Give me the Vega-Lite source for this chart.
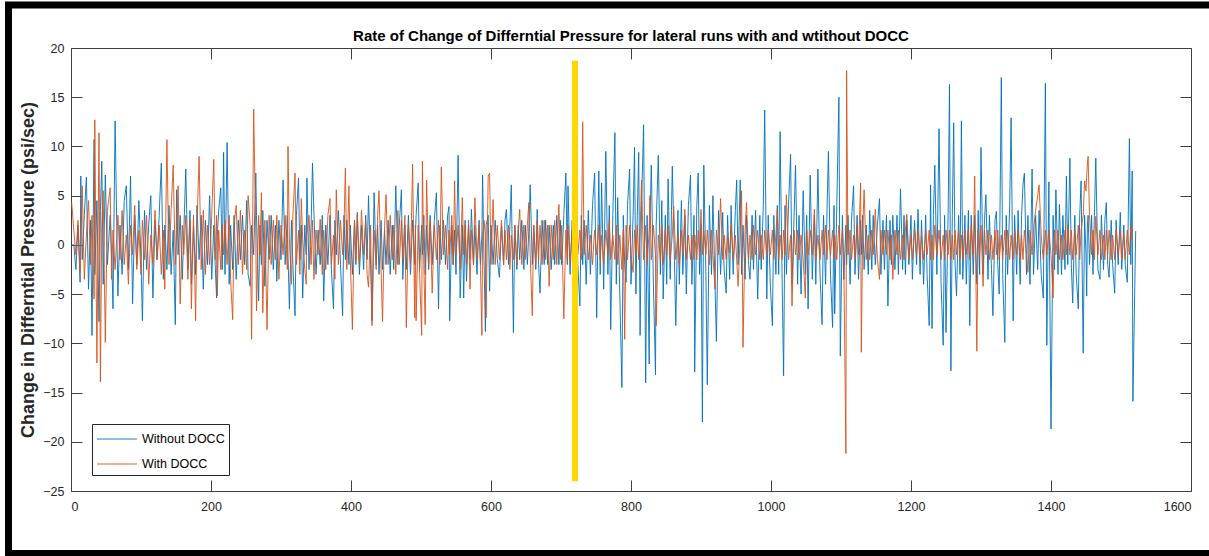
{
"$schema":"https://vega.github.io/schema/vega-lite/v6.json",
"autosize":{"type":"none"},
"width":1120,"height":443,
"padding":{"left":71,"top":48,"right":18,"bottom":65},
"background":"white",
"config":{"font":"Liberation Sans","view":{"stroke":"#404040","strokeWidth":1}},
"title":{"text":"Rate of Change of Differntial Pressure for lateral runs with and wtithout DOCC","fontSize":15,"font":"Liberation Sans","fontWeight":"bold","color":"black","offset":-43,"anchor":"middle","frame":"group"},
"data":{"values":[
{"x":1,"b":0,"o":4.3},{"x":4,"b":0,"o":1.5},{"x":7,"b":-2.5,"o":-1.0},{"x":10,"b":2.0,"o":2.5},{"x":13,"b":-3.8,"o":-2.8},{"x":14,"b":7.0,"o":0.5},{"x":16,"b":-1.5,"o":6.0},{"x":19,"b":3.0,"o":-3.5},{"x":22,"b":6.9,"o":1.0},{"x":25,"b":-4.5,"o":4.5},{"x":28,"b":2.5,"o":-2.0},{"x":30,"b":-9.2,"o":3.0},{"x":33,"b":10.7,"o":-5.5},{"x":34,"b":-3.0,"o":12.7},{"x":37,"b":4.5,"o":-12.0},{"x":40,"b":-7.8,"o":11.4},{"x":42,"b":3.5,"o":-13.9},{"x":44,"b":8.5,"o":2.0},{"x":46,"b":-4.0,"o":5.5},{"x":49,"b":7.1,"o":-9.9},{"x":52,"b":-2.0,"o":3.5},{"x":56,"b":3.0,"o":5.8},{"x":58,"b":-1.0,"o":-3.5},{"x":60,"b":-6.5,"o":1.5},{"x":63,"b":12.6,"o":-2.5},{"x":67,"b":-5.2,"o":3.0},{"x":70,"b":2.0,"o":-1.5},{"x":73,"b":-3.0,"o":3.5},{"x":76,"b":4.5,"o":-2.0},{"x":79,"b":6.0,"o":1.0},{"x":82,"b":-2.5,"o":-4.0},{"x":85,"b":7.0,"o":2.0},{"x":88,"b":-6.0,"o":-1.0},{"x":91,"b":3.0,"o":4.0},{"x":94,"b":-2.0,"o":-2.5},{"x":97,"b":4.5,"o":1.5},{"x":100,"b":-1.5,"o":-3.0},{"x":102,"b":-7.7,"o":2.5},{"x":105,"b":3.5,"o":-1.5},{"x":108,"b":-2.5,"o":3.0},{"x":111,"b":2.0,"o":-4.0},{"x":114,"b":5.0,"o":1.0},{"x":117,"b":-5.4,"o":-2.0},{"x":120,"b":2.5,"o":3.5},{"x":123,"b":-1.5,"o":-1.5},{"x":126,"b":3.0,"o":2.0},{"x":129,"b":8.3,"o":-3.0},{"x":132,"b":-3.5,"o":1.5},{"x":134,"b":2.0,"o":-4.5},{"x":137,"b":-2.5,"o":10.7},{"x":140,"b":4.0,"o":-2.0},{"x":143,"b":-3.0,"o":3.5},{"x":146,"b":1.5,"o":8.1},{"x":149,"b":-8.1,"o":-2.0},{"x":151,"b":5.6,"o":1.5},{"x":153,"b":-1.0,"o":6.0},{"x":156,"b":3.0,"o":-6.0},{"x":159,"b":-3.5,"o":2.0},{"x":161,"b":1.0,"o":-1.0},{"x":164,"b":7.7,"o":3.0},{"x":167,"b":-2.5,"o":-3.5},{"x":170,"b":3.5,"o":2.5},{"x":172,"b":-4.0,"o":-6.5},{"x":175,"b":2.0,"o":3.0},{"x":178,"b":-3.0,"o":-7.7},{"x":180,"b":4.0,"o":2.0},{"x":183,"b":-1.5,"o":9.0},{"x":186,"b":3.0,"o":-2.5},{"x":189,"b":-4.5,"o":3.5},{"x":192,"b":2.5,"o":-3.0},{"x":195,"b":-2.0,"o":2.0},{"x":198,"b":5.0,"o":-2.0},{"x":201,"b":-3.5,"o":3.0},{"x":204,"b":2.0,"o":8.7},{"x":206,"b":-2.0,"o":-1.5},{"x":208,"b":-5.4,"o":3.0},{"x":209,"b":1.0,"o":-5.2},{"x":211,"b":3.5,"o":1.5},{"x":214,"b":5.8,"o":-2.5},{"x":216,"b":-2.5,"o":2.0},{"x":218,"b":9.4,"o":-1.0},{"x":220,"b":-3.0,"o":2.5},{"x":223,"b":10.4,"o":-2.0},{"x":226,"b":-4.0,"o":3.0},{"x":228,"b":2.0,"o":-3.5},{"x":231,"b":-2.5,"o":-7.6},{"x":233,"b":3.0,"o":2.0},{"x":236,"b":-3.5,"o":4.0},{"x":239,"b":2.5,"o":-2.0},{"x":242,"b":-1.5,"o":3.5},{"x":245,"b":3.0,"o":-3.0},{"x":248,"b":-2.0,"o":1.5},{"x":251,"b":4.5,"o":-2.5},{"x":253,"b":-3.0,"o":5.0},{"x":256,"b":-4.2,"o":2.0},{"x":258,"b":2.0,"o":-9.6},{"x":261,"b":-1.0,"o":13.8},{"x":264,"b":7.3,"o":1.0},{"x":265,"b":3.0,"o":-6.7},{"x":268,"b":-5.7,"o":3.0},{"x":270,"b":2.0,"o":-1.0},{"x":272,"b":-2.0,"o":5.3},{"x":274,"b":3.5,"o":-6.9},{"x":277,"b":-4.2,"o":2.5},{"x":280,"b":2.5,"o":-8.6},{"x":283,"b":-1.5,"o":3.0},{"x":286,"b":3.0,"o":-2.0},{"x":289,"b":-2.5,"o":2.5},{"x":292,"b":2.0,"o":-1.5},{"x":294,"b":-3.7,"o":3.0},{"x":297,"b":2.5,"o":-3.5},{"x":300,"b":-1.5,"o":2.0},{"x":303,"b":6.6,"o":-1.0},{"x":306,"b":-2.0,"o":3.0},{"x":309,"b":3.0,"o":-2.5},{"x":310,"b":-1.0,"o":10.0},{"x":312,"b":-6.5,"o":0.5},{"x":315,"b":2.5,"o":-4.0},{"x":317,"b":-2.0,"o":3.0},{"x":320,"b":-7.2,"o":7.3},{"x":322,"b":3.0,"o":-2.0},{"x":325,"b":6.8,"o":1.5},{"x":327,"b":-1.5,"o":-3.0},{"x":329,"b":2.0,"o":4.7},{"x":331,"b":-5.4,"o":0.5},{"x":334,"b":2.0,"o":-2.5},{"x":336,"b":-1.0,"o":-4.0},{"x":337,"b":6.8,"o":1.0},{"x":340,"b":-2.5,"o":3.0},{"x":343,"b":2.0,"o":-2.0},{"x":345,"b":8.3,"o":2.5},{"x":347,"b":3.3,"o":-3.5},{"x":350,"b":-3.0,"o":1.5},{"x":353,"b":1.5,"o":-1.0},{"x":356,"b":-2.0,"o":2.6},{"x":359,"b":3.0,"o":-3.0},{"x":361,"b":-5.7,"o":1.5},{"x":364,"b":2.0,"o":-2.5},{"x":367,"b":-2.0,"o":3.0},{"x":370,"b":3.0,"o":4.7},{"x":372,"b":-2.5,"o":-2.0},{"x":375,"b":-6.5,"o":1.0},{"x":377,"b":2.5,"o":-3.5},{"x":379,"b":-1.0,"o":5.6},{"x":382,"b":3.5,"o":-2.0},{"x":385,"b":-2.0,"o":2.5},{"x":388,"b":-7.2,"o":-1.0},{"x":390,"b":3.0,"o":2.0},{"x":392,"b":-1.5,"o":7.8},{"x":394,"b":2.5,"o":-2.5},{"x":397,"b":-2.0,"o":6.0},{"x":399,"b":2.0,"o":-1.5},{"x":402,"b":-3.0,"o":-8.6},{"x":405,"b":2.5,"o":2.5},{"x":407,"b":-2.0,"o":-1.5},{"x":409,"b":3.3,"o":3.0},{"x":412,"b":-3.0,"o":-2.0},{"x":415,"b":2.0,"o":3.5},{"x":418,"b":-2.5,"o":-1.0},{"x":421,"b":3.0,"o":2.5},{"x":423,"b":-1.5,"o":-3.0},{"x":425,"b":5.0,"o":-4.3},{"x":428,"b":-2.0,"o":2.0},{"x":430,"b":-7.7,"o":-8.2},{"x":433,"b":5.3,"o":1.5},{"x":436,"b":-2.0,"o":-2.5},{"x":438,"b":2.0,"o":3.0},{"x":440,"b":-3.0,"o":5.5},{"x":443,"b":2.5,"o":-2.5},{"x":445,"b":-2.5,"o":-7.8},{"x":448,"b":1.5,"o":2.0},{"x":450,"b":-2.0,"o":5.1},{"x":453,"b":2.5,"o":-2.0},{"x":456,"b":-3.0,"o":3.0},{"x":459,"b":2.0,"o":-1.5},{"x":461,"b":-2.5,"o":2.0},{"x":464,"b":6.0,"o":-3.0},{"x":467,"b":-2.0,"o":3.5},{"x":469,"b":2.0,"o":-2.0},{"x":472,"b":5.6,"o":2.5},{"x":474,"b":-3.5,"o":-1.5},{"x":477,"b":2.0,"o":3.0},{"x":479,"b":-2.5,"o":-8.4},{"x":482,"b":3.0,"o":2.0},{"x":485,"b":-3.0,"o":-2.0},{"x":488,"b":2.5,"o":8.2},{"x":491,"b":-2.0,"o":-7.4},{"x":492,"b":1.0,"o":2.0},{"x":493,"b":3.0,"o":-7.7},{"x":496,"b":6.3,"o":2.0},{"x":498,"b":-2.5,"o":-3.0},{"x":501,"b":2.0,"o":-9.2},{"x":502,"b":-1.0,"o":8.5},{"x":504,"b":3.0,"o":-2.0},{"x":506,"b":-3.0,"o":-8.1},{"x":508,"b":2.0,"o":6.6},{"x":511,"b":-2.5,"o":-2.0},{"x":513,"b":3.0,"o":2.5},{"x":516,"b":-2.0,"o":-4.9},{"x":519,"b":2.5,"o":2.0},{"x":522,"b":5.3,"o":-1.5},{"x":525,"b":-6.5,"o":2.5},{"x":527,"b":2.0,"o":-2.0},{"x":529,"b":-1.5,"o":7.9},{"x":532,"b":2.5,"o":-1.0},{"x":535,"b":-2.0,"o":2.0},{"x":538,"b":3.0,"o":-2.5},{"x":540,"b":3.9,"o":1.5},{"x":541,"b":-7.7,"o":-1.0},{"x":544,"b":2.0,"o":3.0},{"x":546,"b":-2.0,"o":-2.0},{"x":548,"b":1.5,"o":6.5},{"x":550,"b":-3.0,"o":-1.0},{"x":553,"b":9.1,"o":2.0},{"x":556,"b":-5.4,"o":-2.5},{"x":559,"b":2.0,"o":4.8},{"x":561,"b":-5.4,"o":-1.0},{"x":563,"b":2.5,"o":2.0},{"x":565,"b":-3.7,"o":-2.0},{"x":568,"b":2.0,"o":2.5},{"x":570,"b":-1.5,"o":-4.5},{"x":572,"b":3.6,"o":1.5},{"x":575,"b":-2.0,"o":-2.0},{"x":577,"b":2.0,"o":4.8},{"x":580,"b":-3.0,"o":-1.5},{"x":583,"b":2.5,"o":2.0},{"x":585,"b":-2.0,"o":-2.5},{"x":587,"b":1.0,"o":-9.2},{"x":588,"b":7.1,"o":1.0},{"x":590,"b":-1.5,"o":2.5},{"x":592,"b":-8.8,"o":1.0},{"x":593,"b":2.0,"o":-7.4},{"x":596,"b":3.0,"o":7.0},{"x":598,"b":-4.7,"o":7.3},{"x":600,"b":2.0,"o":-2.0},{"x":603,"b":-2.0,"o":4.6},{"x":606,"b":2.5,"o":-2.0},{"x":609,"b":-1.5,"o":2.0},{"x":612,"b":-3.3,"o":-1.5},{"x":615,"b":2.0,"o":2.5},{"x":618,"b":-2.0,"o":-2.0},{"x":620,"b":2.5,"o":1.5},{"x":622,"b":3.6,"o":-1.5},{"x":625,"b":-2.0,"o":2.0},{"x":627,"b":2.0,"o":-2.5},{"x":629,"b":6.1,"o":1.0},{"x":632,"b":-8.9,"o":-1.5},{"x":634,"b":2.0,"o":2.0},{"x":637,"b":-2.5,"o":-2.0},{"x":639,"b":2.0,"o":1.5},{"x":641,"b":-1.5,"o":3.6},{"x":644,"b":2.5,"o":-2.0},{"x":647,"b":-2.5,"o":2.0},{"x":649,"b":2.0,"o":-1.5},{"x":652,"b":-2.0,"o":2.0},{"x":654,"b":1.5,"o":4.3},{"x":656,"b":6.1,"o":-1.0},{"x":659,"b":-2.0,"o":-7.2},{"x":661,"b":2.0,"o":2.0},{"x":664,"b":-2.5,"o":-2.0},{"x":666,"b":3.6,"o":2.5},{"x":668,"b":-2.0,"o":-1.5},{"x":670,"b":-4.9,"o":2.0},{"x":673,"b":2.5,"o":-2.0},{"x":676,"b":-2.0,"o":2.5},{"x":678,"b":2.5,"o":-1.5},{"x":681,"b":-2.0,"o":2.0},{"x":683,"b":2.0,"o":-4.2},{"x":686,"b":-2.5,"o":2.0},{"x":689,"b":2.0,"o":-1.5},{"x":691,"b":-2.0,"o":2.5},{"x":694,"b":3.0,"o":-2.0},{"x":697,"b":-2.0,"o":4.1},{"x":699,"b":2.5,"o":-1.5},{"x":701,"b":-2.0,"o":2.0},{"x":704,"b":3.0,"o":-7.5},{"x":707,"b":7.3,"o":1.5},{"x":709,"b":-2.0,"o":-1.5},{"x":710,"b":6.0,"o":2.0},{"x":713,"b":-3.0,"o":-2.0},{"x":716,"b":2.5,"o":1.5},{"x":719,"b":-3.5,"o":-1.5},{"x":722,"b":3.0,"o":2.5},{"x":724,"b":-2.0,"o":-1.0},{"x":727,"b":-6.2,"o":1.5},{"x":729,"b":3.0,"o":-1.5},{"x":731,"b":-2.0,"o":12.5},{"x":733,"b":2.5,"o":-1.0},
{"x":736,"b":-4.0,"o":2.0},{"x":739,"b":3.5,"o":-1.5},{"x":742,"b":-3.0,"o":1.0},{"x":745,"b":4.0,"o":-2.0},{"x":748,"b":7.3,"o":1.5},{"x":751,"b":-7.4,"o":-1.0},{"x":754,"b":7.5,"o":2.0},{"x":756,"b":-3.0,"o":-1.5},{"x":758,"b":6.3,"o":1.0},{"x":761,"b":-4.5,"o":-2.0},{"x":764,"b":9.5,"o":1.5},{"x":767,"b":-3.0,"o":-1.0},{"x":769,"b":4.0,"o":2.5},{"x":771,"b":-8.6,"o":-1.5},{"x":774,"b":3.0,"o":1.0},{"x":777,"b":11.4,"o":-1.5},{"x":779,"b":-4.0,"o":2.0},{"x":781,"b":4.8,"o":-2.0},{"x":784,"b":-5.0,"o":1.0},{"x":787,"b":-14.5,"o":-2.5},{"x":789,"b":3.0,"o":1.5},{"x":791,"b":-2.0,"o":-9.6},{"x":793,"b":-3.8,"o":2.0},{"x":795,"b":4.0,"o":-1.5},{"x":798,"b":7.7,"o":2.0},{"x":800,"b":-4.0,"o":-1.0},{"x":803,"b":3.0,"o":-2.8},{"x":805,"b":9.9,"o":1.5},{"x":807,"b":-5.0,"o":-1.0},{"x":809,"b":3.0,"o":2.0},{"x":811,"b":9.4,"o":-1.5},{"x":813,"b":-9.2,"o":1.0},{"x":815,"b":4.0,"o":6.6},{"x":818,"b":12.2,"o":-1.5},{"x":821,"b":-14.0,"o":2.0},{"x":823,"b":3.0,"o":-2.0},{"x":826,"b":-12.1,"o":1.5},{"x":827,"b":2.0,"o":5.0},{"x":829,"b":8.1,"o":-1.5},{"x":832,"b":-4.0,"o":2.0},{"x":835,"b":-13.2,"o":-1.0},{"x":836,"b":2.0,"o":-8.2},{"x":839,"b":9.1,"o":1.0},{"x":842,"b":-3.0,"o":-1.5},{"x":844,"b":4.5,"o":2.0},{"x":846,"b":-5.5,"o":-2.0},{"x":849,"b":3.0,"o":1.5},{"x":851,"b":-4.0,"o":-1.0},{"x":853,"b":6.7,"o":2.0},{"x":856,"b":-3.5,"o":-1.5},{"x":859,"b":8.0,"o":1.0},{"x":861,"b":2.0,"o":3.9},{"x":864,"b":-8.2,"o":-1.5},{"x":867,"b":3.5,"o":1.0},{"x":869,"b":-4.0,"o":-2.0},{"x":872,"b":4.5,"o":1.5},{"x":874,"b":-3.0,"o":-1.0},{"x":877,"b":3.0,"o":3.6},{"x":879,"b":-5.0,"o":-1.5},{"x":882,"b":4.0,"o":1.0},{"x":885,"b":7.1,"o":-1.5},{"x":887,"b":-4.0,"o":1.0},{"x":890,"b":3.0,"o":-1.5},{"x":891,"b":-12.9,"o":1.0},{"x":894,"b":4.0,"o":-1.5},{"x":896,"b":7.3,"o":1.5},{"x":898,"b":-3.0,"o":-1.0},{"x":900,"b":2.0,"o":3.6},{"x":902,"b":-18.0,"o":-1.0},{"x":904,"b":8.1,"o":1.5},{"x":907,"b":-3.0,"o":-1.0},{"x":909,"b":-14.2,"o":1.5},{"x":912,"b":4.0,"o":-2.0},{"x":915,"b":-3.0,"o":1.5},{"x":917,"b":5.0,"o":-1.0},{"x":920,"b":-4.0,"o":-4.5},{"x":922,"b":-9.8,"o":1.5},{"x":925,"b":3.5,"o":-1.0},{"x":928,"b":-3.0,"o":4.7},{"x":931,"b":3.3,"o":-1.5},{"x":933,"b":-2.5,"o":1.0},{"x":936,"b":-4.9,"o":-1.5},{"x":938,"b":3.0,"o":1.0},{"x":941,"b":-3.5,"o":-0.8},{"x":943,"b":4.0,"o":2.0},{"x":946,"b":-3.0,"o":-1.5},{"x":949,"b":3.5,"o":1.0},{"x":951,"b":6.6,"o":-1.5},{"x":953,"b":-2.0,"o":-4.2},{"x":956,"b":6.6,"o":1.0},{"x":958,"b":-3.0,"o":5.5},{"x":960,"b":2.0,"o":-10.4},{"x":963,"b":-3.5,"o":1.5},{"x":965,"b":3.0,"o":4.3},{"x":968,"b":-2.0,"o":-1.5},{"x":970,"b":-3.5,"o":1.0},{"x":973,"b":3.0,"o":-1.5},{"x":975,"b":-2.5,"o":2.0},{"x":978,"b":3.5,"o":-1.0},{"x":981,"b":-5.5,"o":1.5},{"x":984,"b":3.0,"o":-1.5},{"x":986,"b":-2.5,"o":1.0},{"x":989,"b":4.0,"o":-1.5},{"x":991,"b":13.7,"o":1.5},{"x":994,"b":-5.5,"o":-1.0},{"x":996,"b":3.0,"o":1.5},{"x":999,"b":-4.0,"o":-1.0},{"x":1002,"b":-8.2,"o":1.5},{"x":1004,"b":3.0,"o":-1.5},{"x":1007,"b":-3.0,"o":1.0},{"x":1009,"b":4.0,"o":3.6},{"x":1011,"b":-3.0,"o":-1.5},{"x":1013,"b":11.5,"o":1.0},{"x":1016,"b":-4.0,"o":-1.5},{"x":1018,"b":-13.3,"o":1.5},{"x":1020,"b":4.0,"o":-1.0},{"x":1022,"b":-3.0,"o":5.1},{"x":1025,"b":4.0,"o":-1.5},{"x":1028,"b":9.2,"o":1.0},{"x":1030,"b":-4.0,"o":-6.2},{"x":1033,"b":3.0,"o":1.5},{"x":1035,"b":8.1,"o":-1.0},{"x":1038,"b":-4.0,"o":1.5},{"x":1040,"b":3.0,"o":-1.5},{"x":1043,"b":-5.0,"o":1.0},{"x":1046,"b":5.5,"o":-1.5},{"x":1049,"b":-3.0,"o":-5.4},{"x":1051,"b":3.0,"o":1.5},{"x":1053,"b":-6.5,"o":-1.0},{"x":1056,"b":7.1,"o":1.5},{"x":1059,"b":-3.5,"o":-1.0},{"x":1062,"b":3.0,"o":3.6},{"x":1064,"b":-4.0,"o":-1.5},{"x":1067,"b":7.7,"o":1.0},{"x":1070,"b":-3.0,"o":-1.5},{"x":1073,"b":-8.1,"o":1.5},{"x":1075,"b":3.0,"o":-1.0},{"x":1078,"b":-4.0,"o":2.0},{"x":1080,"b":3.5,"o":-1.5},{"x":1082,"b":9.5,"o":1.5},{"x":1085,"b":-3.0,"o":-1.0},{"x":1088,"b":-8.4,"o":1.5},{"x":1090,"b":4.0,"o":-1.5},{"x":1091,"b":-7.0,"o":1.0},{"x":1094,"b":4.0,"o":-1.5},{"x":1097,"b":15.0,"o":2.0},{"x":1099,"b":-11.3,"o":-1.0},{"x":1102,"b":3.0,"o":1.5},{"x":1104,"b":-3.5,"o":-1.5},{"x":1107,"b":2.0,"o":-21.2},{"x":1108,"b":-2.0,"o":17.7},{"x":1110,"b":3.0,"o":-1.0},{"x":1113,"b":-4.0,"o":1.5},{"x":1115,"b":2.5,"o":-1.5},{"x":1118,"b":6.0,"o":1.0},{"x":1120,"b":-3.0,"o":-1.5},{"x":1123,"b":3.0,"o":2.0},{"x":1125,"b":-3.5,"o":-1.0},{"x":1128,"b":2.5,"o":6.3},{"x":1129,"b":-1.0,"o":-10.9},{"x":1131,"b":3.0,"o":1.5},{"x":1133,"b":-2.5,"o":5.6},{"x":1136,"b":2.0,"o":-1.5},{"x":1139,"b":-3.0,"o":1.0},{"x":1141,"b":3.5,"o":-1.5},{"x":1144,"b":-2.5,"o":1.5},{"x":1146,"b":3.0,"o":-1.0},{"x":1149,"b":-2.0,"o":3.6},{"x":1152,"b":2.0,"o":-1.5},{"x":1155,"b":4.7,"o":-3.5},{"x":1157,"b":-3.0,"o":1.5},{"x":1160,"b":2.5,"o":-1.0},{"x":1162,"b":-2.5,"o":1.5},{"x":1165,"b":3.0,"o":-1.0},{"x":1167,"b":-6.2,"o":1.5},{"x":1170,"b":2.5,"o":-1.5},{"x":1172,"b":-2.0,"o":1.0},{"x":1174,"b":3.0,"o":-3.5},{"x":1177,"b":-2.5,"o":1.5},{"x":1180,"b":3.0,"o":-1.0},{"x":1182,"b":-3.0,"o":1.5},{"x":1185,"b":5.7,"o":-1.5},{"x":1188,"b":-2.5,"o":1.0},{"x":1190,"b":3.0,"o":-1.5},{"x":1192,"b":-3.0,"o":1.5},{"x":1194,"b":2.5,"o":3.1},{"x":1197,"b":-2.0,"o":-1.5},{"x":1200,"b":3.0,"o":1.0},{"x":1202,"b":-3.5,"o":-1.5},{"x":1205,"b":2.5,"o":1.5},{"x":1208,"b":-2.0,"o":-1.0},{"x":1210,"b":3.6,"o":1.5},{"x":1213,"b":-3.0,"o":-1.5},{"x":1215,"b":2.5,"o":1.0},{"x":1218,"b":-4.0,"o":-1.5},{"x":1221,"b":3.0,"o":1.5},{"x":1223,"b":-3.0,"o":-1.0},{"x":1226,"b":-8.2,"o":1.5},{"x":1228,"b":6.1,"o":-1.5},{"x":1230,"b":-8.5,"o":1.0},{"x":1232,"b":3.0,"o":-1.5},{"x":1234,"b":8.1,"o":2.0},{"x":1237,"b":-3.0,"o":-1.0},{"x":1240,"b":11.8,"o":1.5},{"x":1243,"b":-4.0,"o":-1.5},{"x":1246,"b":-10.2,"o":1.0},{"x":1248,"b":3.0,"o":-1.5},{"x":1250,"b":-8.9,"o":1.5},{"x":1253,"b":3.0,"o":-1.0},{"x":1255,"b":16.3,"o":1.5},{"x":1257,"b":-12.8,"o":-1.5},{"x":1259,"b":3.0,"o":1.0},{"x":1261,"b":12.4,"o":-1.5},{"x":1263,"b":-2.0,"o":1.5},{"x":1265,"b":-5.2,"o":-1.0},{"x":1268,"b":3.0,"o":1.5},{"x":1270,"b":-3.0,"o":-1.5},{"x":1272,"b":12.6,"o":1.0},{"x":1274,"b":-3.5,"o":-1.5},{"x":1277,"b":3.0,"o":1.5},{"x":1279,"b":-4.0,"o":-1.0},{"x":1282,"b":3.5,"o":1.5},{"x":1284,"b":-8.2,"o":-1.5},{"x":1286,"b":3.0,"o":2.0},{"x":1289,"b":-3.0,"o":-1.0},{"x":1291,"b":3.0,"o":7.0},{"x":1294,"b":-4.0,"o":-10.8},{"x":1296,"b":3.5,"o":1.5},{"x":1298,"b":-3.0,"o":-1.0},{"x":1300,"b":9.9,"o":2.0},{"x":1303,"b":-3.0,"o":-4.2},{"x":1305,"b":2.5,"o":1.5},{"x":1307,"b":5.1,"o":-1.0},{"x":1310,"b":-3.5,"o":1.5},{"x":1312,"b":3.0,"o":-1.5},{"x":1315,"b":-2.5,"o":1.0},{"x":1317,"b":-7.2,"o":-1.5},{"x":1320,"b":2.5,"o":1.5},{"x":1322,"b":3.4,"o":-1.0},{"x":1324,"b":-2.0,"o":1.5},{"x":1326,"b":-5.0,"o":-1.5},{"x":1329,"b":17.0,"o":1.0},{"x":1331,"b":-3.0,"o":-1.5},{"x":1334,"b":-9.9,"o":1.5},{"x":1336,"b":3.0,"o":-1.0},{"x":1338,"b":-3.0,"o":1.5},{"x":1341,"b":4.0,"o":-1.5},{"x":1343,"b":12.9,"o":1.0},{"x":1346,"b":-7.7,"o":-1.5},{"x":1348,"b":3.0,"o":1.5},{"x":1351,"b":-3.0,"o":-1.0},{"x":1353,"b":3.5,"o":1.5},{"x":1356,"b":-4.0,"o":-1.5},{"x":1358,"b":3.0,"o":1.0},{"x":1360,"b":6.1,"o":-1.5},{"x":1362,"b":7.3,"o":1.5},{"x":1365,"b":-3.0,"o":-1.0},{"x":1367,"b":3.0,"o":-2.8},{"x":1370,"b":-4.0,"o":1.5},{"x":1373,"b":7.7,"o":-1.0},{"x":1375,"b":-3.0,"o":1.5},{"x":1378,"b":3.0,"o":3.5},{"x":1381,"b":-2.5,"o":5.0},{"x":1383,"b":3.5,"o":6.1},{"x":1386,"b":-3.0,"o":1.0},{"x":1389,"b":-5.4,"o":-1.5},{"x":1392,"b":16.4,"o":1.5},{"x":1394,"b":-10.2,"o":-1.0},{"x":1397,"b":6.4,"o":1.5},{"x":1400,"b":-18.7,"o":-1.0},{"x":1403,"b":3.0,"o":-5.4},{"x":1405,"b":-2.5,"o":1.5},{"x":1407,"b":5.6,"o":-1.0},{"x":1410,"b":-3.0,"o":1.5},{"x":1412,"b":4.1,"o":-1.5},{"x":1415,"b":-3.0,"o":1.0},{"x":1417,"b":3.0,"o":-1.5},{"x":1420,"b":-2.5,"o":1.5},{"x":1422,"b":7.0,"o":-1.0},{"x":1424,"b":-2.0,"o":2.0},{"x":1427,"b":8.8,"o":-1.0},{"x":1429,"b":-2.0,"o":1.5},{"x":1431,"b":-5.9,"o":-1.5},{"x":1434,"b":3.0,"o":1.5},{"x":1436,"b":-3.0,"o":-1.0},{"x":1439,"b":-6.5,"o":2.0},{"x":1441,"b":3.0,"o":-1.5},{"x":1443,"b":6.5,"o":1.5},{"x":1446,"b":-11.0,"o":3.0},{"x":1448,"b":3.0,"o":6.5},{"x":1450,"b":-1.0,"o":5.5},{"x":1451,"b":-5.2,"o":7.0},{"x":1452,"b":2.0,"o":8.2},{"x":1453,"b":3.0,"o":9.0},{"x":1455,"b":-2.0,"o":3.0},{"x":1458,"b":3.0,"o":-1.0},{"x":1460,"b":-3.0,"o":1.5},{"x":1462,"b":3.0,"o":-1.5},{"x":1464,"b":8.8,"o":2.9},{"x":1467,"b":-2.5,"o":-1.0},{"x":1470,"b":-3.5,"o":1.5},{"x":1472,"b":3.0,"o":-1.5},{"x":1475,"b":-2.5,"o":1.0},{"x":1477,"b":2.5,"o":-1.5},{"x":1479,"b":4.3,"o":1.5},{"x":1481,"b":-2.0,"o":-1.0},{"x":1483,"b":-3.3,"o":1.5},{"x":1486,"b":2.5,"o":-1.5},{"x":1488,"b":-2.0,"o":1.0},{"x":1491,"b":-4.9,"o":-1.5},{"x":1493,"b":2.5,"o":1.5},{"x":1496,"b":-2.0,"o":-1.0},{"x":1499,"b":3.3,"o":1.5},{"x":1501,"b":-2.5,"o":-1.5},{"x":1504,"b":2.0,"o":1.0},{"x":1506,"b":-2.0,"o":-1.5},{"x":1509,"b":-3.8,"o":1.5},{"x":1512,"b":10.8,"o":-1.0},{"x":1514,"b":-2.0,"o":2.0},{"x":1516,"b":7.5,"o":0.5},{"x":1517,"b":-15.9},{"x":1521,"b":1.4}
]},
"transform":[{"fold":["b","o"],"as":["k","y"]},{"filter":"isValid(datum.y)"}],
"layer":[
{"transform":[{"filter":"datum.k=='b'"}],
 "mark":{"type":"line","strokeWidth":1,"opacity":0.9,"clip":true},
 "encoding":{
  "x":{"field":"x","type":"quantitative","scale":{"domain":[0,1600],"nice":false,"zero":false},
       "axis":{"orient":"bottom","title":null,"format":"d","values":[0,200,400,600,800,1000,1200,1400,1600],"grid":false,"domain":false,"tickSize":-11,"tickColor":"#404040","labelPadding":20,"labelFontSize":12.5,"labelColor":"#262626","labelFont":"Liberation Sans"}},
  "y":{"field":"y","type":"quantitative","scale":{"domain":[-25,20],"nice":false,"zero":false},
       "axis":{"orient":"left","title":"Change in Differntial Pressure (psi/sec)","titleFontSize":18,"titleFontWeight":"bold","titleColor":"#262626","titleFont":"Liberation Sans","titlePadding":5,"format":"d","values":[-25,-20,-15,-10,-5,0,5,10,15,20],"grid":false,"domain":false,"tickSize":-11,"tickColor":"#404040","labelPadding":18,"labelFontSize":12.5,"labelColor":"#262626","labelFont":"Liberation Sans"}},
  "color":{"field":"k","type":"nominal","scale":{"domain":["b","o"],"range":["#0072BD","#D95319"]},
    "legend":{"title":null,"orient":"none","legendX":21,"legendY":376,"labelExpr":"datum.value=='b' ? 'Without DOCC' : 'With DOCC'","strokeColor":"#262626","fillColor":"white","padding":4,"symbolType":"M-2,0H2","symbolSize":400,"symbolStrokeWidth":1.2,"symbolOffset":10,"labelFontSize":12.5,"labelFont":"Liberation Sans","labelColor":"black","rowPadding":7,"labelOffset":14}}
 }},
{"transform":[{"filter":"datum.k=='o'"}],
 "mark":{"type":"line","strokeWidth":1,"opacity":0.9,"clip":true},
 "encoding":{
  "x":{"field":"x","type":"quantitative","axis":{"orient":"top","title":null,"labels":false,"values":[0,200,400,600,800,1000,1200,1400,1600],"grid":false,"domain":false,"tickSize":-11,"tickColor":"#404040"}},
  "y":{"field":"y","type":"quantitative","axis":{"orient":"right","title":null,"labels":false,"values":[-25,-20,-15,-10,-5,0,5,10,15,20],"grid":false,"domain":false,"tickSize":-11,"tickColor":"#404040"}},
  "color":{"field":"k","type":"nominal"}
 }},
{"data":{"values":[{}]},
 "mark":{"type":"rule","color":"#FFD700","strokeWidth":6},
 "encoding":{"x":{"datum":720,"type":"quantitative","axis":null},"y":{"datum":18.7,"type":"quantitative","axis":null},"y2":{"datum":-24.0}}},
{"data":{"values":[{}]},
 "mark":{"type":"rect","fill":null,"fillOpacity":0,"stroke":"black","strokeWidth":7,"clip":false},
 "encoding":{"x":{"datum":-89.3,"type":"quantitative","axis":null},"x2":{"datum":1660},"y":{"datum":24.37,"type":"quantitative","axis":null},"y2":{"datum":-31.35}}}
],
"resolve":{"axis":{"x":"independent","y":"independent"}}
}
